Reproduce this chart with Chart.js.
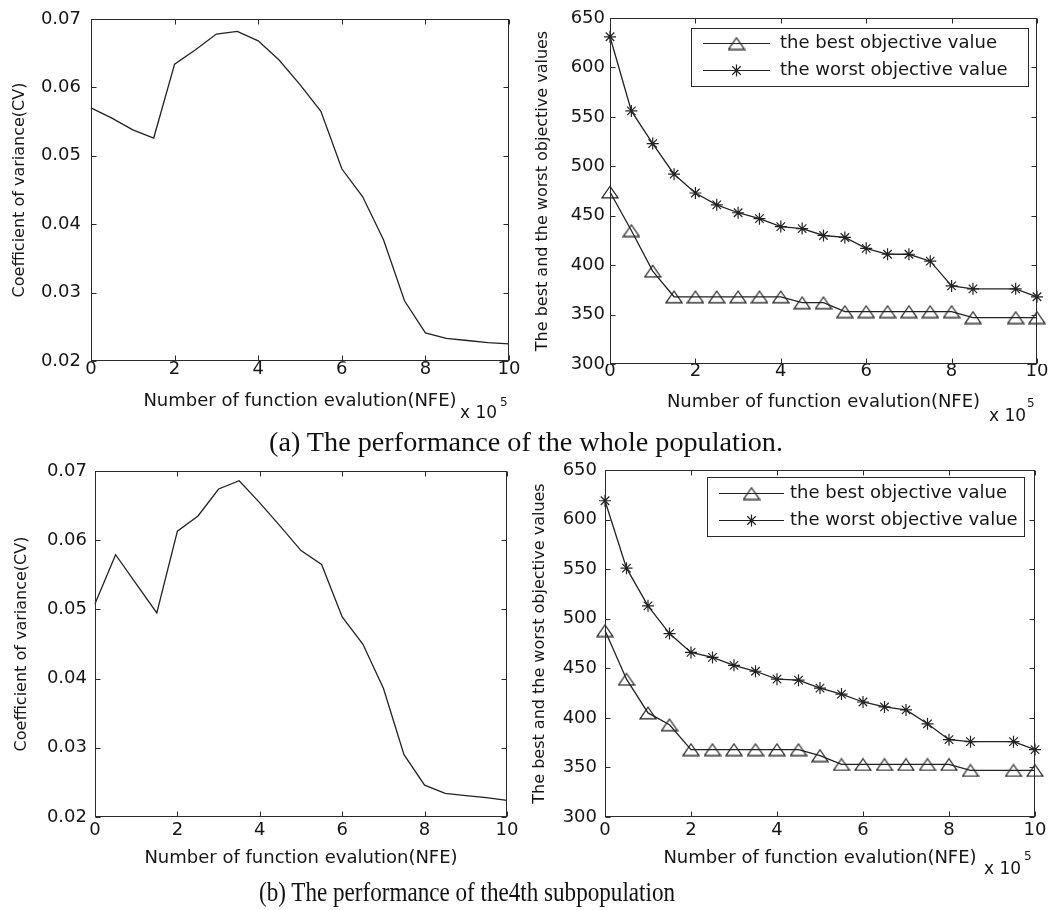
<!DOCTYPE html>
<html>
<head>
<meta charset="utf-8">
<script src="https://cdn.jsdelivr.net/npm/chart.js@4.4.0/dist/chart.umd.min.js"></script>
<style>
html,body{margin:0;padding:0;background:#fff;}
#wrap{position:relative;width:1054px;height:910px;overflow:hidden;background:#fff;}
canvas{position:absolute;}
.cap{position:absolute;font-family:"Liberation Serif","Times New Roman",serif;color:#111;white-space:nowrap;transform-origin:left top;line-height:28px;font-size:28px;}
</style>
</head>
<body>
<div id="wrap">
  <canvas id="c1" style="left:0px;top:0px;"></canvas>
  <canvas id="c2" style="left:527px;top:0px;"></canvas>
  <canvas id="c3" style="left:0px;top:440px;"></canvas>
  <canvas id="c4" style="left:527px;top:440px;"></canvas>
  <div class="cap" id="capA" style="left:269px;top:428px;">(a) The performance of the whole population.</div>
  <div class="cap" id="capB" style="left:259px;top:878px;">(b) The performance of the4th subpopulation</div>
</div>
<script>
// ---------------- data ----------------
const nfeCV = [0,0.5,1,1.5,2,2.5,3,3.5,4,4.5,5,5.5,6,6.5,7,7.5,8,8.5,9,9.5,10];
const cvWhole = [0.0570,0.0555,0.0538,0.0526,0.0634,0.0655,0.0678,0.0682,0.0668,0.0640,0.0604,0.0565,0.0481,0.0440,0.0377,0.0288,0.0241,0.0233,0.0230,0.0227,0.0225];
const cvSub4  = [0.0508,0.0579,0.0537,0.0495,0.0613,0.0635,0.0674,0.0686,0.0654,0.0620,0.0585,0.0565,0.0489,0.0450,0.0386,0.0290,0.0246,0.0234,0.0231,0.0228,0.0224];

const nfeObj = [0,0.5,1,1.5,2,2.5,3,3.5,4,4.5,5,5.5,6,6.5,7,7.5,8,8.5,9.5,10];
const bestWhole  = [474,435,394,368,368,368,368,368,368,362,362,353,353,353,353,353,353,347,347,347];
const worstWhole = [631,556,523,492,473,461,453,447,439,437,430,428,417,411,411,404,379,376,376,368];
const bestSub4   = [488,439,405,393,368,368,368,368,368,368,362,353,353,353,353,353,353,347,347,347];
const worstSub4  = [619,551,513,485,466,461,453,447,439,438,430,424,416,411,408,394,378,376,376,368];

const nfeTicks = [0,2,4,6,8,10];
const cvTicks  = [0.02,0.03,0.04,0.05,0.06,0.07];
const objTicks = [300,350,400,450,500,550,600,650];

const xTitle = 'Number of function evalution(NFE)';
const cvTitle = 'Coefficient of variance(CV)';
const objTitle = 'The best and the worst objective values';
const legendLabels = ['the best objective value','the worst objective value'];

// ---------------- styling ----------------
const FAM = '"DejaVu Sans", sans-serif';
const INK = '#161616';
const LINE = '#222222';

function pts(xs, ys){ return xs.map((x,i)=>({x:x, y:ys[i]})); }

// hollow triangle marker (MATLAB '^')
const tri = document.createElement('canvas');
tri.width = 18; tri.height = 14;
(function(){
  const t = tri.getContext('2d');
  t.strokeStyle = LINE; t.lineWidth = 1.2;
  t.beginPath(); t.moveTo(1,12.8); t.lineTo(9,1.2); t.lineTo(17,12.8); t.closePath(); t.stroke();
})();

const framePlugin = {
  id: 'frame',
  afterDraw(chart, args, o) {
    const ctx = chart.ctx, a = chart.chartArea;
    const xs = chart.scales.x, ys = chart.scales.y;
    const L = Math.round(a.left)+0.5, R = Math.round(a.right)-0.5;
    const T = Math.round(a.top)+0.5, B = Math.round(a.bottom)-0.5;
    ctx.save();
    ctx.strokeStyle = '#2a2a2a'; ctx.lineWidth = 1;
    ctx.strokeRect(L, T, R-L, B-T);
    const tl = 5;
    ctx.beginPath();
    xs.ticks.forEach(t => {
      const p = Math.round(xs.getPixelForValue(t.value))+0.5;
      ctx.moveTo(p, B); ctx.lineTo(p, B-tl);
      ctx.moveTo(p, T); ctx.lineTo(p, T+tl);
    });
    ys.ticks.forEach(t => {
      const p = Math.round(ys.getPixelForValue(t.value))+0.5;
      ctx.moveTo(L, p); ctx.lineTo(L+tl, p);
      ctx.moveTo(R, p); ctx.lineTo(R-tl, p);
    });
    ctx.stroke();
    // exponent label
    if (o.exp) {
      ctx.fillStyle = INK;
      ctx.textBaseline = 'alphabetic'; ctx.textAlign = 'left';
      ctx.font = '17px ' + FAM;
      ctx.fillText('x 10', o.exp.x, o.exp.y);
      ctx.font = '12px ' + FAM;
      ctx.fillText('5', o.exp.sx, o.exp.sy);
    }
    // legend box
    if (o.legend) {
      const g = o.legend;
      ctx.strokeStyle = '#2a2a2a'; ctx.lineWidth = 1;
      ctx.strokeRect(Math.round(g.x1)+0.5, Math.round(g.y1)+0.5, Math.round(g.x2-g.x1), Math.round(g.y2-g.y1));
      ctx.font = '18px ' + FAM;
      ctx.textBaseline = 'middle'; ctx.textAlign = 'left';
      chart.data.datasets.forEach((ds, i) => {
        const y = Math.round(g.rows[i]) + 0.5;
        ctx.strokeStyle = LINE; ctx.lineWidth = 1.2;
        ctx.beginPath(); ctx.moveTo(g.lx1, y); ctx.lineTo(g.lx2, y); ctx.stroke();
        Chart.helpers.drawPoint(ctx, {pointStyle: ds.pointStyle, radius: ds.pointRadius, rotation: 0, borderWidth: 1.2}, (g.lx1+g.lx2)/2, y);
        ctx.fillStyle = INK;
        ctx.fillText(ds.label, g.tx, y);
      });
    }
    ctx.restore();
  }
};

function makeChart(id, box, datasets, yTicks, yFmt, yTitle, extras) {
  const el = document.getElementById(id);
  el.width = box.w; el.height = box.h;
  el.style.width = box.w + 'px'; el.style.height = box.h + 'px';
  return new Chart(el, {
    type: 'line',
    data: { datasets: datasets },
    options: {
      responsive: false, animation: false, devicePixelRatio: 1,
      layout: { padding: { left: 0, top: box.t, right: box.w - box.r, bottom: 0 } },
      plugins: { legend: { display: false }, tooltip: { enabled: false }, frame: extras },
      scales: {
        x: {
          type: 'linear', min: nfeTicks[0], max: nfeTicks[nfeTicks.length-1],
          afterBuildTicks: s => { s.ticks = nfeTicks.map(v => ({ value: v })); },
          afterFit: s => { s.height = box.h - box.b; },
          grid: { display: false, drawTicks: false }, border: { display: false },
          ticks: { font: { family: FAM, size: 18, lineHeight: 1 }, color: INK, padding: box.xTickPad, maxRotation: 0, autoSkip: false, callback: v => String(v) },
          title: { display: true, text: xTitle, color: INK, font: { family: FAM, size: 18, lineHeight: 1.2 }, padding: { top: 0, bottom: box.xTitlePad } }
        },
        y: {
          type: 'linear', min: yTicks[0], max: yTicks[yTicks.length-1],
          afterBuildTicks: s => { s.ticks = yTicks.map(v => ({ value: v })); },
          afterFit: s => { s.width = box.l; },
          grid: { display: false, drawTicks: false }, border: { display: false },
          ticks: { font: { family: FAM, size: 18, lineHeight: 1 }, color: INK, padding: box.yTickPad, autoSkip: false, callback: v => yFmt(v) },
          title: { display: true, text: yTitle, color: INK, font: { family: FAM, size: 16, lineHeight: 1.2 }, padding: { top: box.yTitlePad, bottom: 0 } }
        }
      }
    },
    plugins: [framePlugin]
  });
}

function cvSet(ys) {
  return [{ label: 'CV', data: pts(nfeCV, ys), borderColor: LINE, borderWidth: 1.3, pointRadius: 0, tension: 0, fill: false, clip: false }];
}
function objSets(best, worst) {
  return [
    { label: legendLabels[0], data: pts(nfeObj, best), borderColor: LINE, borderWidth: 1.3, pointStyle: tri, pointRadius: 7, tension: 0, fill: false, clip: false },
    { label: legendLabels[1], data: pts(nfeObj, worst), borderColor: LINE, borderWidth: 1.3, pointStyle: 'star', pointRadius: 6, pointBorderColor: LINE, pointBorderWidth: 1.2, tension: 0, fill: false, clip: false }
  ];
}
const fmtCV = v => Number(v).toFixed(2);
const fmtObj = v => String(Math.round(v));

// top-left
makeChart('c1', { w: 527, h: 425, l: 91, t: 16, r: 509, b: 361, xTickPad: -1, xTitlePad: 13, yTickPad: 10, yTitlePad: 10 },
  cvSet(cvWhole), cvTicks, fmtCV, cvTitle, { exp: { x: 460, y: 418, sx: 500, sy: 406 } });

// top-right
makeChart('c2', { w: 527, h: 425, l: 83, t: 18, r: 510, b: 364, xTickPad: -2, xTitlePad: 12, yTickPad: 5, yTitlePad: 6 },
  objSets(bestWhole, worstWhole), objTicks, fmtObj, objTitle,
  { exp: { x: 462, y: 421, sx: 500, sy: 407 },
    legend: { x1: 164, y1: 28, x2: 501, y2: 86, rows: [43, 70], lx1: 176, lx2: 243, tx: 253 } });

// bottom-left
makeChart('c3', { w: 527, h: 440, l: 95, t: 31, r: 507, b: 377, xTickPad: 4, xTitlePad: 11, yTickPad: 8, yTitlePad: 12 },
  cvSet(cvSub4), cvTicks, fmtCV, cvTitle, { exp: { x: 464, y: 874, sx: 504, sy: 862 } });

// bottom-right
makeChart('c4', { w: 527, h: 440, l: 78, t: 30, r: 508, b: 377, xTickPad: 4, xTitlePad: 11, yTickPad: 8, yTitlePad: 3 },
  objSets(bestSub4, worstSub4), objTicks, fmtObj, objTitle,
  { exp: { x: 457, y: 434, sx: 497, sy: 420 },
    legend: { x1: 180, y1: 37, x2: 497, y2: 96, rows: [53, 80], lx1: 192, lx2: 257, tx: 263 } });

(function(){
  const a = document.getElementById('capA');
  const b = document.getElementById('capB');
  const fit = (el, w) => { const cw = el.getBoundingClientRect().width; el.style.transform = 'scaleX(' + (w / cw) + ')'; };
  fit(a, 514);
  fit(b, 416);
})();
</script>
</body>
</html>
